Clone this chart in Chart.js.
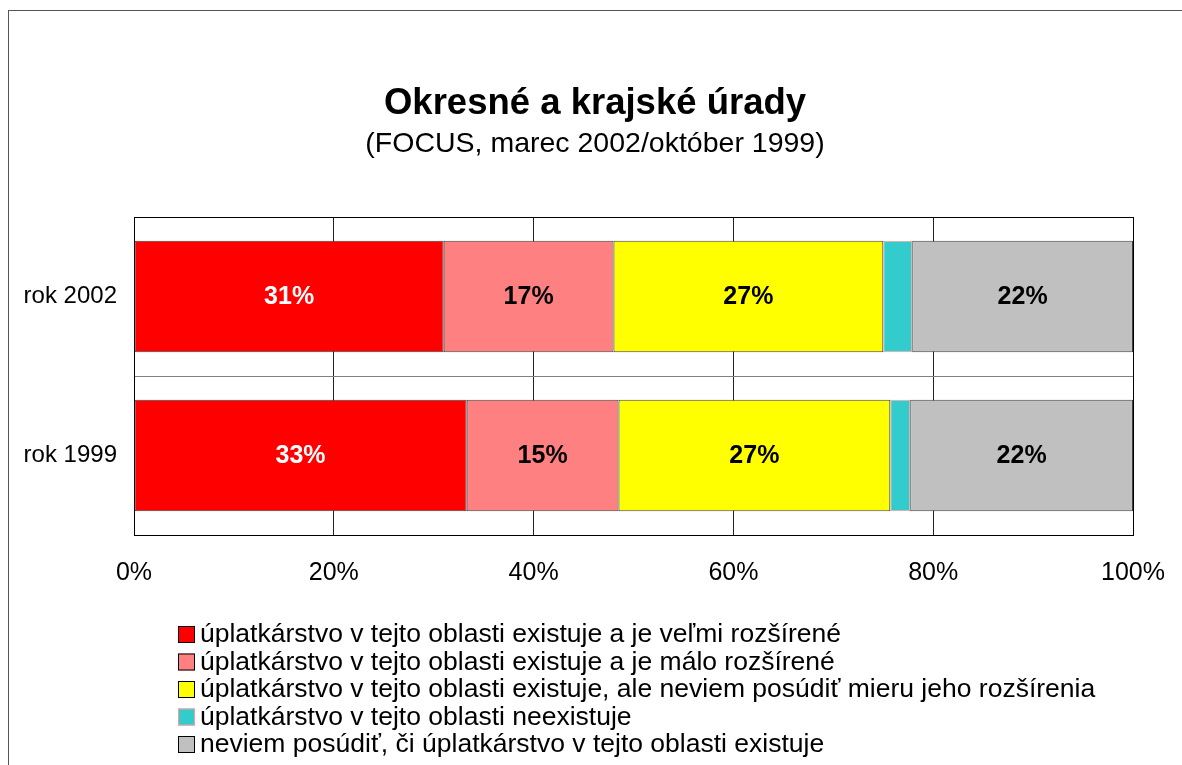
<!DOCTYPE html>
<html>
<head>
<meta charset="utf-8">
<script src="https://cdn.jsdelivr.net/npm/chart.js@4/dist/chart.umd.min.js"></script>
<style>
  html, body { margin: 0; padding: 0; background: #fff; overflow: hidden; }
  #wrap { position: relative; width: 1182px; height: 765px; }
  #frame { position: absolute; left: 8px; top: 10px; width: 1300px; height: 900px; border: 1.5px solid #555; box-sizing: border-box; }
  canvas { position: absolute; left: 0; top: 0; }
</style>
</head>
<body>
<div id="wrap">
  <div id="frame"></div>
  <canvas id="c" width="1182" height="765"></canvas>
</div>
<script>
const titleText = 'Okresné a krajské úrady';
const subtitleText = '(FOCUS, marec 2002/október 1999)';
const categories = ['rok 2002', 'rok 1999'];
const seriesNames = [
  'úplatkárstvo v tejto oblasti existuje a je veľmi rozšírené',
  'úplatkárstvo v tejto oblasti existuje a je málo rozšírené',
  'úplatkárstvo v tejto oblasti existuje, ale neviem posúdiť mieru jeho rozšírenia',
  'úplatkárstvo v tejto oblasti neexistuje',
  'neviem posúdiť, či úplatkárstvo v tejto oblasti existuje'
];
const veryWidespread = [31.0, 33.3];
const littleWidespread = [17.0, 15.2];
const cannotJudgeExtent = [27.0, 27.2];
const notExisting = [2.9, 2.0];
const cannotJudge = [22.1, 22.3];
const xTicks = [0, 20, 40, 60, 80, 100];

const fills = ['#FF0000', '#FF8080', '#FFFF00', '#33CCCC', '#C0C0C0'];
const borders = ['#404040', '#404040', '#404040', '#FF9999', '#404040'];
const labelColors = ['#FFFFFF', '#000000', '#000000', '#000000', '#000000'];
const seriesValues = [veryWidespread, littleWidespread, cannotJudgeExtent, notExisting, cannotJudge];

const FONT = '"Liberation Sans", Arial, sans-serif';

const datasets = seriesValues.map((vals, i) => ({
  label: seriesNames[i],
  data: vals,
  backgroundColor: fills[i],
  borderColor: borders[i],
  borderWidth: 1,
  borderSkipped: false,
  categoryPercentage: 0.7,
  barPercentage: 1.0
}));

const titleShiftPlugin = {
  id: 'titleShift',
  afterLayout(chart) {
    chart.boxes.forEach(b => {
      if (b.options && typeof b.options.text === 'string') {
        b.left = 54;
        b.right = 1136;
      }
    });
  }
};

const labelPlugin = {
  id: 'barLabels',
  afterDatasetsDraw(chart) {
    const ctx = chart.ctx;
    ctx.save();
    ctx.font = 'bold 25px ' + FONT;
    ctx.textAlign = 'center';
    ctx.textBaseline = 'middle';
    chart.data.datasets.forEach((ds, di) => {
      const meta = chart.getDatasetMeta(di);
      meta.data.forEach((el, j) => {
        const v = ds.data[j];
        if (v < 5) return;
        ctx.fillStyle = labelColors[di];
        ctx.fillText(Math.round(v) + '%', (el.x + el.base) / 2, el.y + 1);
      });
    });
    ctx.restore();
  }
};

const framePlugin = {
  id: 'areaFrame',
  afterDatasetsDraw(chart) {
    const a = chart.chartArea, ctx = chart.ctx;
    ctx.save();
    ctx.strokeStyle = '#000';
    ctx.lineWidth = 1;
    ctx.strokeRect(Math.round(a.left) + 0.5, Math.round(a.top) + 0.5, Math.round(a.right - a.left), Math.round(a.bottom - a.top));
    ctx.restore();
  }
};

const legendPlugin = {
  id: 'stackLegend',
  afterDraw(chart) {
    const ctx = chart.ctx;
    ctx.save();
    ctx.font = '26.5px ' + FONT;
    ctx.textBaseline = 'middle';
    ctx.textAlign = 'left';
    chart.data.datasets.forEach((ds, i) => {
      const cy = 634 + i * 27.5;
      ctx.fillStyle = ds.backgroundColor;
      ctx.fillRect(178, cy - 8, 17, 17);
      ctx.strokeStyle = i === 3 ? '#FF9999' : '#000';
      ctx.lineWidth = 1;
      ctx.strokeRect(178.5, cy - 7.5, 16, 16);
      ctx.fillStyle = '#000';
      ctx.fillText(ds.label, 200, cy + 1);
    });
    ctx.restore();
  }
};

new Chart(document.getElementById('c'), {
  type: 'bar',
  data: { labels: categories, datasets: datasets },
  options: {
    indexAxis: 'y',
    responsive: false,
    animation: false,
    devicePixelRatio: 1,
    layout: { padding: { left: 0, right: 49, top: 0, bottom: 174 } },
    plugins: {
      legend: { display: false },
      tooltip: { enabled: false },
      title: {
        display: true,
        text: titleText,
        color: '#000',
        font: { family: FONT, size: 36.5, weight: 'bold', lineHeight: 1.2 },
        padding: { top: 82, bottom: 0 }
      },
      subtitle: {
        display: true,
        text: subtitleText,
        color: '#000',
        font: { family: FONT, size: 28.5, lineHeight: 1.2 },
        padding: { top: 1, bottom: 56 }
      }
    },
    scales: {
      x: {
        stacked: true,
        min: 0,
        max: 100,
        afterBuildTicks(scale) { scale.ticks = xTicks.map(v => ({ value: v })); },
        ticks: {
          color: '#000',
          font: { family: FONT, size: 25 },
          padding: 3,
          callback: v => v + '%',
          maxRotation: 0
        },
        grid: { color: '#222', lineWidth: 1, drawTicks: true, tickLength: 20, tickColor: 'rgba(0,0,0,0)' },
        border: { display: true, color: '#000' }
      },
      y: {
        stacked: true,
        afterFit(scale) { scale.width = 134; },
        ticks: {
          color: '#000',
          font: { family: FONT, size: 24 },
          padding: 17
        },
        grid: { color: '#808080', lineWidth: 1, drawTicks: false, offset: true },
        border: { display: true, color: '#000' }
      }
    }
  },
  plugins: [titleShiftPlugin, labelPlugin, framePlugin, legendPlugin]
});
</script>
</body>
</html>
